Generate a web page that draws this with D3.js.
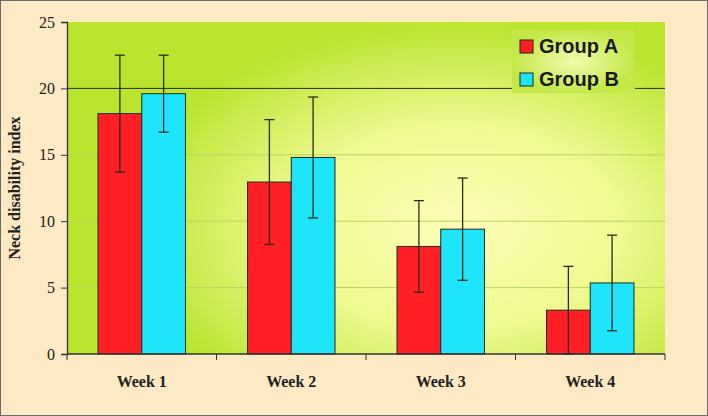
<!DOCTYPE html>
<html>
<head>
<meta charset="utf-8">
<script src="https://cdn.jsdelivr.net/npm/d3@7"></script>
<style>
  body { margin: 0; background: #fde9c3; }
  svg { display: block; }
</style>
</head>
<body>
<div id="chart"></div>
<script>
const weeks = ['Week 1', 'Week 2', 'Week 3', 'Week 4'];
const groups = ['Group A', 'Group B'];
const groupA = [18.1, 12.95, 8.1, 3.3];
const groupB = [19.6, 14.8, 9.4, 5.35];
const errA = [4.4, 4.7, 3.45, 3.3];
const errB = [2.9, 4.55, 3.85, 3.6];
const yTicks = [0, 5, 10, 15, 20, 25];
const colors = ['#ff1f24', '#1fe5fb'];

const W = 708, H = 416;
const margin = {top: 22, right: 43, bottom: 62, left: 67};
const width = W - margin.left - margin.right;
const height = H - margin.top - margin.bottom;

const svg = d3.select('#chart').append('svg')
  .attr('width', W).attr('height', H);

// outer frame
svg.append('rect')
  .attr('x', 0.5).attr('y', 0.5).attr('width', W - 1).attr('height', H - 1)
  .attr('fill', '#fde9c3').attr('stroke', '#6b6b6b');

const defs = svg.append('defs');
const grad = defs.append('radialGradient')
  .attr('id', 'plotbg')
  .attr('gradientUnits', 'userSpaceOnUse')
  .attr('cx', 390).attr('cy', 205).attr('r', 330)
  .attr('gradientTransform', 'translate(390,205) scale(1,0.62) translate(-390,-205)');
grad.append('stop').attr('offset', '0%').attr('stop-color', '#fefdb6');
grad.append('stop').attr('offset', '50%').attr('stop-color', '#eff990');
grad.append('stop').attr('offset', '100%').attr('stop-color', '#b9e52f');

const lg = defs.append('radialGradient').attr('id', 'legbg');
lg.append('stop').attr('offset', '0%').attr('stop-color', '#f2fbb0');
lg.append('stop').attr('offset', '100%').attr('stop-color', '#c3e847');

const g = svg.append('g')
  .attr('transform', 'translate(' + margin.left + ',' + margin.top + ')');

const x0 = d3.scaleBand().domain(weeks).range([0, width]).paddingInner(0).paddingOuter(0);
const x1 = d3.scaleBand().domain(groups).range([0, x0.bandwidth() * 0.585])
  .paddingInner(0);
const groupOffset = (x0.bandwidth() - x1.range()[1]) / 2;
const y = d3.scaleLinear().domain([0, 25]).range([height, 0]);

g.append('rect')
  .attr('x', 0).attr('y', 0).attr('width', width).attr('height', height)
  .attr('fill', 'url(#plotbg)');

// gridlines
g.selectAll('.grid')
  .data(yTicks.filter(d => d > 0 && d < 25))
  .enter().append('line')
  .attr('x1', 0).attr('x2', width)
  .attr('y1', d => y(d)).attr('y2', d => y(d))
  .attr('stroke', d => d === 20 ? '#2a2a2a' : '#bcd462')
  .attr('stroke-width', 1);

const data = weeks.map((w, i) => ({
  week: w,
  vals: [
    {group: groups[0], v: groupA[i], e: errA[i], c: colors[0]},
    {group: groups[1], v: groupB[i], e: errB[i], c: colors[1]}
  ]
}));

const cat = g.selectAll('.cat').data(data).enter().append('g')
  .attr('transform', d => 'translate(' + (x0(d.week) + groupOffset) + ',0)');

cat.selectAll('rect').data(d => d.vals).enter().append('rect')
  .attr('x', d => x1(d.group))
  .attr('y', d => y(d.v))
  .attr('width', x1.bandwidth())
  .attr('height', d => height - y(d.v))
  .attr('fill', d => d.c)
  .attr('stroke', '#1e2a1e').attr('stroke-width', 1);

const eb = cat.selectAll('.err').data(d => d.vals).enter().append('g')
  .attr('stroke', '#2c2c18').attr('stroke-width', 1.3);
const cx = d => x1(d.group) + x1.bandwidth() / 2;
eb.append('line')
  .attr('x1', cx).attr('x2', cx)
  .attr('y1', d => y(d.v + d.e)).attr('y2', d => y(d.v - d.e));
eb.append('line')
  .attr('x1', d => cx(d) - 5).attr('x2', d => cx(d) + 5)
  .attr('y1', d => y(d.v + d.e)).attr('y2', d => y(d.v + d.e));
eb.append('line')
  .attr('x1', d => cx(d) - 5).attr('x2', d => cx(d) + 5)
  .attr('y1', d => y(d.v - d.e)).attr('y2', d => y(d.v - d.e));

// y axis
const yAxis = g.append('g')
  .call(d3.axisLeft(y).tickValues(yTicks).tickSize(6).tickPadding(6));
yAxis.select('.domain').attr('stroke', '#333').attr('stroke-width', 1.3);
yAxis.selectAll('.tick line').attr('stroke', '#333');
yAxis.selectAll('text')
  .attr('font-family', '"Liberation Serif", "Times New Roman", serif')
  .attr('font-size', 16).attr('fill', '#222');

// x axis with ticks at category boundaries
const xAxis = g.append('g').attr('transform', 'translate(0,' + height + ')');
xAxis.append('line').attr('x1', 0).attr('x2', width)
  .attr('stroke', '#333').attr('stroke-width', 1.3);
xAxis.selectAll('.xt').data(weeks.concat(['end'])).enter().append('line')
  .attr('x1', (d, i) => i * x0.bandwidth()).attr('x2', (d, i) => i * x0.bandwidth())
  .attr('y1', 0).attr('y2', 6).attr('stroke', '#333');
xAxis.selectAll('.xl').data(weeks).enter().append('text')
  .attr('x', d => x0(d) + groupOffset + x1.range()[1] / 2)
  .attr('y', 33)
  .attr('text-anchor', 'middle')
  .attr('font-family', '"Liberation Serif", "Times New Roman", serif')
  .attr('font-weight', 'bold').attr('font-size', 16).attr('fill', '#222')
  .text(d => d);

svg.append('text')
  .attr('transform', 'translate(20,' + (margin.top + height / 2) + ') rotate(-90)')
  .attr('text-anchor', 'middle')
  .attr('font-family', '"Liberation Serif", "Times New Roman", serif')
  .attr('font-weight', 'bold').attr('font-size', 16).attr('fill', '#222')
  .text('Neck disability index');

// legend
const leg = svg.append('g').attr('transform', 'translate(512,30)');
leg.append('rect').attr('width', 123).attr('height', 63).attr('fill', 'url(#legbg)');
const li = leg.selectAll('.li').data(groups).enter().append('g')
  .attr('transform', (d, i) => 'translate(8,' + (10 + i * 33) + ')');
li.append('rect').attr('width', 13).attr('height', 13)
  .attr('fill', (d, i) => colors[i]).attr('stroke', '#222');
li.append('text').attr('x', 19).attr('y', 13)
  .attr('font-family', '"Liberation Sans", Arial, sans-serif')
  .attr('font-weight', 'bold').attr('font-size', 20).attr('fill', '#1a1a1a')
  .text(d => d);
</script>
</body>
</html>
